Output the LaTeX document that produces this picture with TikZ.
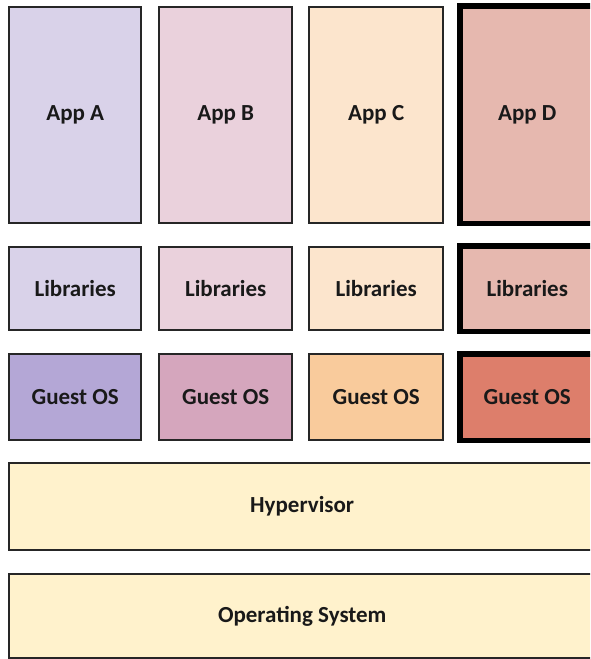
\documentclass[tikz,border=0pt]{standalone}
\usepackage{fontspec}
\setmainfont{Carlito}
\definecolor{appA}{HTML}{D9D2E9}
\definecolor{appB}{HTML}{EAD1DC}
\definecolor{appC}{HTML}{FCE5CD}
\definecolor{appD}{HTML}{E6B8AF}
\definecolor{osA}{HTML}{B4A7D6}
\definecolor{osB}{HTML}{D5A6BD}
\definecolor{osC}{HTML}{F9CB9C}
\definecolor{osD}{HTML}{DD7E6B}
\definecolor{base}{HTML}{FFF2CC}
\tikzset{
  blk/.style={draw=black!85, line width=2.4pt, rectangle, anchor=north west, inner sep=0pt,
    font=\bfseries\fontsize{23}{26}\selectfont, text=black!90},
  thick blk/.style={blk, draw=black, line width=5.5pt}
}
\begin{document}
\begin{tikzpicture}[x=1pt,y=-1pt]
\useasboundingbox (0,0) rectangle (590,659);
\clip (0,0) rectangle (590,659);
\fill[white] (0,0) rectangle (590,659);
% apps
\node[blk, fill=appA, minimum width=132pt, minimum height=216pt] (appa) at (8,6) {App A};
\node[blk, fill=appB, minimum width=133pt, minimum height=216pt] (appb) at (158,6) {App B};
\node[blk, fill=appC, minimum width=134pt, minimum height=216pt] (appc) at (308,6) {App C};
\node[thick blk, fill=appD, minimum width=135pt, minimum height=217.5pt] (appd) at (457,3) {App D};
% libraries
\node[blk, fill=appA, minimum width=132pt, minimum height=83pt] (liba) at (8,246) {Libraries};
\node[blk, fill=appB, minimum width=133pt, minimum height=83pt] (libb) at (158,246) {Libraries};
\node[blk, fill=appC, minimum width=134pt, minimum height=83pt] (libc) at (308,246) {Libraries};
\node[thick blk, fill=appD, minimum width=135pt, minimum height=85.5pt] (libd) at (457,243) {Libraries};
% guest os
\node[blk, fill=osA, minimum width=132pt, minimum height=86pt] (osa) at (8,353) {Guest OS};
\node[blk, fill=osB, minimum width=133pt, minimum height=86pt] (osb) at (158,353) {Guest OS};
\node[blk, fill=osC, minimum width=134pt, minimum height=86pt] (osc) at (308,353) {Guest OS};
\node[thick blk, fill=osD, minimum width=135pt, minimum height=86.5pt] (osd) at (457,351) {Guest OS};
% hypervisor and os
\node[blk, fill=base, minimum width=586pt, minimum height=87pt] (hyp) at (8,462) {Hypervisor};
\node[blk, fill=base, minimum width=586pt, minimum height=84pt] (hos) at (8,573) {Operating System};
\end{tikzpicture}
\end{document}
